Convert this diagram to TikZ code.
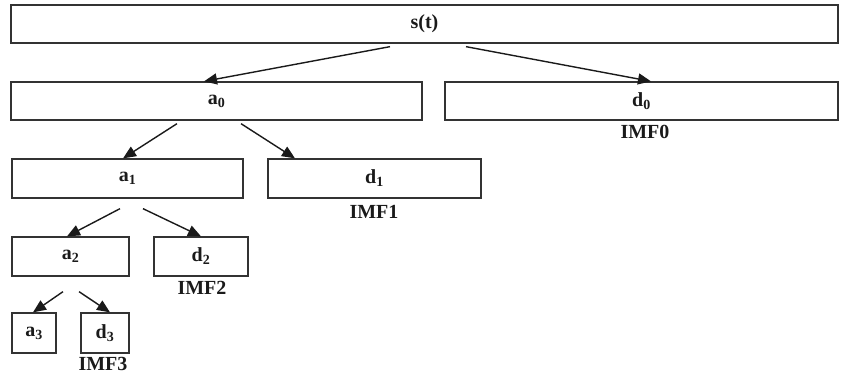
\documentclass[tikz,border=0pt]{standalone}
\usepackage{fontspec}
\setmainfont{Liberation Serif}
\usepackage{xcolor}
\usetikzlibrary{arrows.meta,positioning}
\definecolor{tinta}{HTML}{1A1A1A}
\definecolor{borde}{HTML}{333333}

\begin{document}
\begin{tikzpicture}[x=1pt,y=-1pt,
  caja/.style={draw=borde,line width=1.3pt,fill=white,inner sep=0pt,font=\fontsize{20}{23}\selectfont\bfseries,text=tinta},
  flecha/.style={-{Triangle[length=13pt,width=11pt]},line width=1.4pt,tinta},
  lbl/.style={font=\fontsize{20}{23}\selectfont\bfseries,text=tinta,inner sep=0pt}]
\useasboundingbox (0,0) rectangle (841,381);
\node[caja,minimum width=827pt,minimum height=38pt] (st) at (424.5,24) {s(t)};
\node[caja,minimum width=411pt,minimum height=38pt] (a0) at (216.5,101) {a\textsubscript{0}};
\node[caja,minimum width=393pt,minimum height=38pt] (d0) at (641.5,101) {d\textsubscript{0}};
\node[caja,minimum width=231pt,minimum height=39pt] (a1) at (127.5,178.5) {a\textsubscript{1}};
\node[caja,minimum width=213pt,minimum height=39pt] (d1) at (374.5,178.5) {d\textsubscript{1}};
\node[caja,minimum width=117pt,minimum height=39pt] (a2) at (70.5,256.5) {a\textsubscript{2}};
\node[caja,minimum width=94pt,minimum height=39pt] (d2) at (201,256.5) {d\textsubscript{2}};
\node[caja,minimum width=44pt,minimum height=40pt] (a3) at (34,333) {a\textsubscript{3}};
\node[caja,minimum width=48pt,minimum height=40pt] (d3) at (105,333) {d\textsubscript{3}};
\node[lbl] (imf0) at (645,132) {IMF0};
\node[lbl] (imf1) at (374,212) {IMF1};
\node[lbl] (imf2) at (202,288) {IMF2};
\node[lbl] (imf3) at (103,364) {IMF3};
\draw[flecha] ([xshift=-34.5pt,yshift=-3pt]st.south) -- ([xshift=-12.5pt]a0.north);
\draw[flecha] ([xshift=41.5pt,yshift=-3pt]st.south) -- ([xshift=9.5pt]d0.north);
\draw[flecha] ([xshift=-39.5pt,yshift=-3pt]a0.south) -- ([xshift=-4.5pt]a1.north);
\draw[flecha] ([xshift=24.5pt,yshift=-3pt]a0.south) -- ([xshift=-79.5pt]d1.north);
\draw[flecha] ([xshift=-7.5pt,yshift=-10pt]a1.south) -- ([xshift=-3.5pt]a2.north);
\draw[flecha] ([xshift=15.5pt,yshift=-10pt]a1.south) -- (d2.north);
\draw[flecha] ([xshift=-7.5pt,yshift=-15pt]a2.south) -- ([xshift=-1pt]a3.north);
\draw[flecha] ([xshift=8.5pt,yshift=-15pt]a2.south) -- ([xshift=5pt]d3.north);
\end{tikzpicture}
\end{document}
